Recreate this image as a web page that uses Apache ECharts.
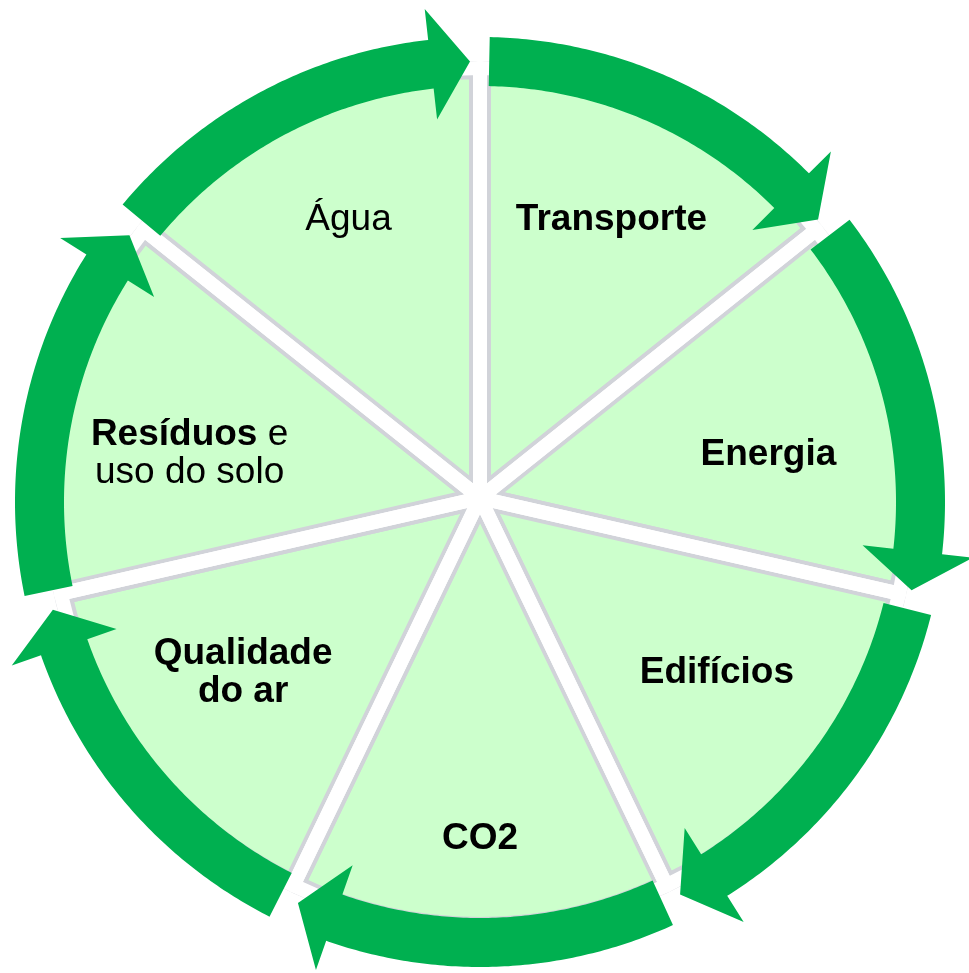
<!DOCTYPE html>
<html style="height: 100%">
<head>
    <meta charset="utf-8">
    <title>Ciclo</title>
</head>
<body style="height: 100%; margin: 0; background: #ffffff">
    <div id="main" style="width: 969px; height: 973px;"></div>

    <script src="https://cdn.jsdelivr.net/npm/echarts@6/dist/echarts.min.js"></script>

    <script type="text/javascript">
    // data
    var categories = ['Transporte', 'Energia', 'Edifícios', 'CO2', 'Qualidade do ar', 'Resíduos e uso do solo', 'Água'];
    var weights = [1, 1, 1, 1, 1, 1, 1];
    var labelTexts = ['Transporte', 'Energia', 'Edifícios', 'CO2', 'Qualidade\ndo ar', '{b|Resíduos} e\nuso do solo', 'Água'];
    var labelBold = [true, true, true, true, true, false, false];

    // layout / style
    var labelShift = [[0, -5], [-7, 24], [0, -14], [0, 38], [0, -14], [5, 23], [0, -5]];
    var pieCenter = [480, 498];
    var ringCenter = [480, 502];
    var RO = 465, RI = 416;
    var GREEN = '#00b050';
    var FONT = '"Liberation Sans", Arial, sans-serif';

    var total = weights.reduce(function (a, b) { return a + b; }, 0);
    var starts = [];
    var acc = 0;
    for (var k = 0; k < weights.length; k++) {
        starts.push(acc / total * 360);
        acc += weights[k];
    }
    starts.push(360);

    function polar(c, r, deg) {
        var a = deg * Math.PI / 180;
        return [c[0] + r * Math.sin(a), c[1] - r * Math.cos(a)];
    }

    function renderArrow(params, api) {
        var i = params.dataIndex;
        var a0 = starts[i] + 1.2;
        var tip = starts[i + 1] - 1.3;
        var back = tip - 5.1;
        var pts = [];
        var a;
        for (a = a0; a < back; a += 0.5) pts.push(polar(ringCenter, RO, a));
        pts.push(polar(ringCenter, RO, back));
        pts.push(polar(ringCenter, RO + 31, back));
        pts.push(polar(ringCenter, (RO + RI) / 2, tip));
        pts.push(polar(ringCenter, RI - 31, back));
        for (a = back; a > a0; a -= 0.5) pts.push(polar(ringCenter, RI, a));
        pts.push(polar(ringCenter, RI, a0));
        return {
            type: 'polygon',
            shape: { points: pts },
            style: { fill: GREEN }
        };
    }

    var pieData = categories.map(function (c, i) {
        return { name: c, value: weights[i] };
    });

    var labelData = categories.map(function (c, i) {
        return {
            name: c,
            value: weights[i],
            label: {
                formatter: labelTexts[i],
                fontWeight: labelBold[i] ? 'bold' : 'normal',
                offset: labelShift[i]
            }
        };
    });

    var plainPie = {
        type: 'pie',
        silent: true,
        center: pieCenter,
        startAngle: 90,
        clockwise: true,
        label: { show: false },
        labelLine: { show: false },
        emphasis: { disabled: true }
    };

    var option = {
        backgroundColor: '#ffffff',
        animation: false,
        tooltip: { show: false },
        series: [
            Object.assign({}, plainPie, {
                radius: [0, 430],
                z: 1,
                itemStyle: { color: '#ccffcc', borderColor: '#d1d3d9', borderWidth: 22 },
                data: pieData
            }),
            Object.assign({}, plainPie, {
                radius: [0, 430],
                z: 2,
                itemStyle: { color: 'rgba(0,0,0,0)', borderColor: '#ffffff', borderWidth: 14 },
                data: pieData
            }),
            // hides the gray outer rim inside the gaps between arrows
            Object.assign({}, plainPie, {
                radius: [437, 450],
                z: 2,
                itemStyle: { color: '#ffffff', borderWidth: 0 },
                data: [{ name: 'rim', value: 1 }]
            }),
            {
                type: 'pie',
                silent: true,
                center: pieCenter,
                radius: [200, 400],
                startAngle: 90,
                clockwise: true,
                z: 4,
                itemStyle: { color: 'rgba(0,0,0,0)', borderWidth: 0 },
                emphasis: { disabled: true },
                labelLine: { show: false },
                label: {
                    show: true,
                    position: 'inside',
                    rotate: 0,
                    color: '#000000',
                    fontFamily: FONT,
                    fontSize: 37,
                    lineHeight: 38,
                    align: 'center',
                    rich: {
                        b: {
                            fontWeight: 'bold',
                            fontSize: 37,
                            lineHeight: 38,
                            color: '#000000',
                            fontFamily: FONT
                        }
                    }
                },
                data: labelData
            },
            {
                type: 'custom',
                coordinateSystem: 'none',
                silent: true,
                z: 3,
                renderItem: renderArrow,
                data: categories.map(function (c, i) { return [i]; })
            }
        ]
    };

    var myChart = echarts.init(document.getElementById('main'));
    myChart.setOption(option);
    </script>
</body>
</html>
